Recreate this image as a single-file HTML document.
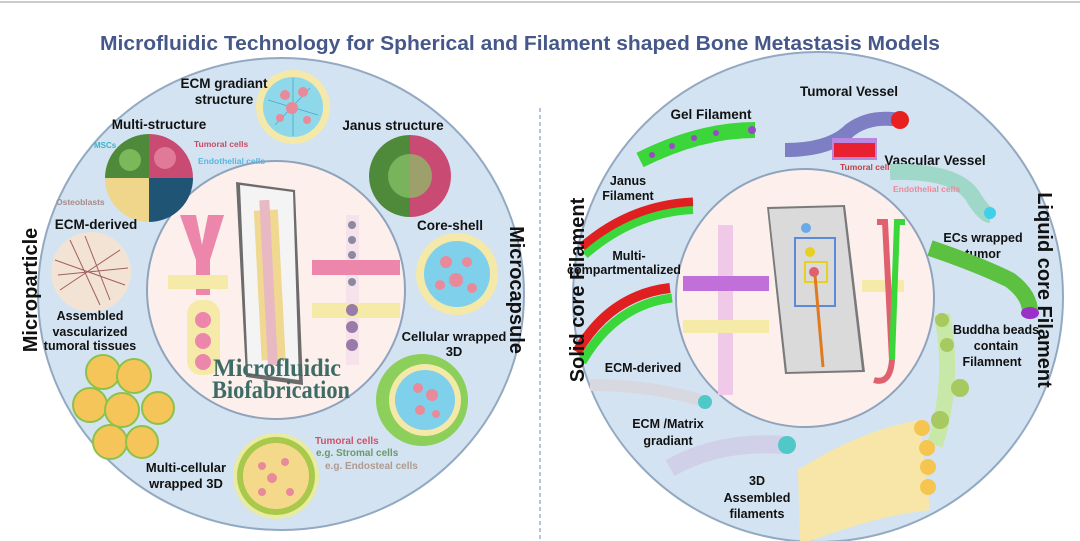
<!DOCTYPE html>
<html><head><meta charset="utf-8"><style>
html,body{margin:0;padding:0;background:#fff;}
svg{display:block;}
text{font-family:"Liberation Sans",sans-serif;font-weight:bold;}
</style></head><body>
<svg width="1080" height="541" viewBox="0 0 1080 541" xmlns="http://www.w3.org/2000/svg">
<rect width="1080" height="541" fill="#fff"/>
<line x1="0" y1="2" x2="1080" y2="2" stroke="#ccc" stroke-width="2"/>
<text x="520" y="50" text-anchor="middle" font-size="20" fill="#46588a" textLength="840" lengthAdjust="spacingAndGlyphs">Microfluidic Technology for Spherical and Filament shaped Bone Metastasis Models</text>
<line x1="540" y1="108" x2="540" y2="541" stroke="#9fb3c8" stroke-width="1.5" stroke-dasharray="4,3"/>

<!-- LEFT -->
<ellipse cx="281" cy="294" rx="243" ry="236" fill="#d3e3f1" stroke="#93a9c2" stroke-width="2"/>
<circle cx="276" cy="290" r="129" fill="#fdf0ec" stroke="#8fa3bd" stroke-width="2"/>

<circle cx="293" cy="107" r="37" fill="#f4e9a8"/>
<circle cx="293" cy="107" r="30" fill="#8fd8ea"/>
<g stroke="#4aa8c8" stroke-width="0.8" fill="none"><path d="M268 100 L318 115 M275 125 L310 88 M293 78 L293 136"/></g>
<g fill="#e98a9a"><circle cx="285" cy="95" r="5"/><circle cx="303" cy="92" r="5"/><circle cx="292" cy="108" r="6"/><circle cx="280" cy="118" r="4"/><circle cx="307" cy="120" r="4"/></g>
<text x="224" y="88" text-anchor="middle" font-size="13.5" fill="#111">ECM gradiant</text>
<text x="224" y="104" text-anchor="middle" font-size="13.5" fill="#111">structure</text>

<path d="M149 178 L149 134 A44 44 0 0 0 105 178Z" fill="#4f8a3a"/>
<path d="M149 178 L193 178 A44 44 0 0 0 149 134Z" fill="#c94a72"/>
<path d="M149 178 L105 178 A44 44 0 0 0 149 222Z" fill="#f0d68a"/>
<path d="M149 178 L149 222 A44 44 0 0 0 193 178Z" fill="#1f5474"/>
<circle cx="130" cy="160" r="11" fill="#7ab85a"/><circle cx="165" cy="158" r="11" fill="#e07a98"/>
<text x="159" y="129" text-anchor="middle" font-size="13.5" fill="#111">Multi-structure</text>
<text x="94" y="148" font-size="8" fill="#3bb3c8">MSCs</text>
<text x="194" y="147" font-size="8.5" fill="#c94a62">Tumoral cells</text>
<text x="198" y="164" font-size="8.5" fill="#5ab4dc">Endothelial cells</text>
<text x="56" y="205" font-size="8.5" fill="#a88a88">Osteoblasts</text>

<path d="M410 135 A41 41 0 0 0 410 217Z" fill="#4f8a3a"/>
<path d="M410 135 A41 41 0 0 1 410 217Z" fill="#c94a72"/>
<circle cx="410" cy="176" r="22" fill="#8cc46a" opacity="0.7"/>
<text x="393" y="130" text-anchor="middle" font-size="13.5" fill="#111">Janus structure</text>

<text x="96" y="229" text-anchor="middle" font-size="13.5" fill="#111">ECM-derived</text>
<circle cx="91" cy="272" r="40" fill="#f3e3d4"/>
<g stroke="#a06060" stroke-width="1" fill="none"><path d="M55 260 L125 285 M60 290 L120 250 M70 240 L100 305 M58 275 L128 268 M85 236 L110 300"/></g>
<text x="90" y="320" text-anchor="middle" font-size="12.5" fill="#111">Assembled</text>
<text x="90" y="336" text-anchor="middle" font-size="12.5" fill="#111">vascularized</text>
<text x="90" y="350" text-anchor="middle" font-size="12.5" fill="#111">tumoral tissues</text>
<g fill="#f5c55a" stroke="#8ac24a" stroke-width="2">
<circle cx="103" cy="372" r="17"/><circle cx="134" cy="376" r="17"/><circle cx="90" cy="405" r="17"/><circle cx="122" cy="410" r="17"/><circle cx="158" cy="408" r="16"/><circle cx="110" cy="442" r="17"/><circle cx="142" cy="442" r="16"/></g>

<text transform="translate(37,290) rotate(-90)" text-anchor="middle" font-size="20" fill="#111">Microparticle</text>
<text transform="translate(510,290) rotate(90)" text-anchor="middle" font-size="20" fill="#111">Microcapsule</text>

<text x="450" y="230" text-anchor="middle" font-size="13.5" fill="#111">Core-shell</text>
<circle cx="457" cy="274" r="41" fill="#f4e9a8"/>
<circle cx="457" cy="274" r="33" fill="#7fd0ea"/>
<g fill="#e98a9a"><circle cx="446" cy="262" r="6"/><circle cx="467" cy="262" r="5"/><circle cx="456" cy="280" r="7"/><circle cx="440" cy="285" r="5"/><circle cx="472" cy="288" r="5"/></g>
<text x="454" y="341" text-anchor="middle" font-size="13" fill="#111">Cellular wrapped</text>
<text x="454" y="356" text-anchor="middle" font-size="13" fill="#111">3D</text>
<circle cx="422" cy="400" r="46" fill="#8ccf5a"/>
<circle cx="425" cy="400" r="36" fill="#f4e9a8"/>
<circle cx="425" cy="400" r="30" fill="#7fd0ea"/>
<g fill="#e98a9a"><circle cx="418" cy="388" r="5"/><circle cx="432" cy="395" r="6"/><circle cx="420" cy="410" r="5"/><circle cx="436" cy="414" r="4"/></g>

<circle cx="276" cy="476" r="43" fill="#e9eba0"/>
<circle cx="276" cy="476" r="39" fill="#a8c94a"/>
<circle cx="276" cy="476" r="33" fill="#f5d98a"/>
<g fill="#e98a9a"><circle cx="262" cy="466" r="4"/><circle cx="285" cy="462" r="4"/><circle cx="272" cy="478" r="5"/><circle cx="262" cy="492" r="4"/><circle cx="290" cy="492" r="4"/></g>
<text x="186" y="472" text-anchor="middle" font-size="13" fill="#111">Multi-cellular</text>
<text x="186" y="488" text-anchor="middle" font-size="13" fill="#111">wrapped 3D</text>
<text x="315" y="444" font-size="10" fill="#d2506a">Tumoral cells</text>
<text x="316" y="456" font-size="10" fill="#6a9a6a">e.g. Stromal cells</text>
<text x="325" y="469" font-size="10" fill="#b09a90">e.g. Endosteal  cells</text>

<!-- inner left devices -->
<path d="M180 215 L196 215 L202 245 L208 215 L224 215 L210 260 L210 295 L196 295 L196 260Z" fill="#ec86ab"/>
<rect x="168" y="275" width="60" height="14" fill="#f5eaa8"/>
<rect x="187" y="300" width="33" height="75" rx="14" fill="#f5eaa8"/>
<circle cx="203" cy="320" r="8" fill="#ec86ab"/><circle cx="203" cy="341" r="8" fill="#ec86ab"/><circle cx="203" cy="362" r="8" fill="#ec86ab"/>
<polygon points="236,182 295,190 303,385 246,377" fill="#6c6c6c"/>
<polygon points="240,185 293,192 299,380 248,373" fill="#f4f4f4"/>
<rect x="258" y="210" width="24" height="150" fill="#f0d890" transform="rotate(-3 270 290)"/>
<rect x="264" y="200" width="10" height="165" fill="#e8b9c2" transform="rotate(-3 270 290)"/>
<rect x="346" y="215" width="13" height="150" fill="#f5e2ea"/>
<rect x="312" y="260" width="88" height="15" fill="#ec86ab"/>
<rect x="312" y="303" width="88" height="15" fill="#f5eaa8"/>
<g fill="#8a8aa0"><circle cx="352" cy="225" r="4"/><circle cx="352" cy="240" r="4"/><circle cx="352" cy="255" r="4"/><circle cx="352" cy="282" r="4"/></g>
<g fill="#9a7aa8"><circle cx="352" cy="310" r="6"/><circle cx="352" cy="327" r="6"/><circle cx="352" cy="345" r="6"/></g>
<text x="277" y="376" text-anchor="middle" font-size="25" fill="#3e6b66" textLength="128" lengthAdjust="spacingAndGlyphs" style="font-family:'Liberation Serif',serif;font-weight:bold">Microfluidic</text>
<text x="281" y="398" text-anchor="middle" font-size="25" fill="#3e6b66" textLength="138" lengthAdjust="spacingAndGlyphs" style="font-family:'Liberation Serif',serif;font-weight:bold">Biofabrication</text>

<!-- RIGHT -->
<circle cx="818" cy="297" r="245" fill="#d3e3f1" stroke="#93a9c2" stroke-width="2"/>
<circle cx="805" cy="298" r="129" fill="#fdf0ec" stroke="#8fa3bd" stroke-width="2"/>

<text x="849" y="96" text-anchor="middle" font-size="13.5" fill="#111">Tumoral Vessel</text>
<text x="711" y="119" text-anchor="middle" font-size="13.5" fill="#111">Gel Filament</text>
<path d="M640 160 Q700 130 755 130" stroke="#3ad63a" stroke-width="16" fill="none"/>
<g fill="#9a4ac8"><circle cx="652" cy="155" r="3"/><circle cx="672" cy="146" r="3"/><circle cx="694" cy="138" r="3"/><circle cx="716" cy="133" r="3"/><circle cx="752" cy="130" r="4"/></g>
<path d="M785 150 Q830 150 850 130 Q870 115 900 120" stroke="#7e7ec4" stroke-width="14" fill="none"/>
<circle cx="900" cy="120" r="9" fill="#e82020"/>
<rect x="832" y="138" width="45" height="22" fill="#b888e0"/>
<rect x="834" y="143" width="41" height="14" fill="#e82030"/>
<text x="840" y="170" font-size="8.5" fill="#c0404a">Tumoral cells</text>
<text x="935" y="165" text-anchor="middle" font-size="13.5" fill="#111">Vascular Vessel</text>
<path d="M890 172 Q960 170 975 200 Q985 215 990 215" stroke="#9fd8c8" stroke-width="16" fill="none"/>
<circle cx="990" cy="213" r="6" fill="#40d0e8"/>
<text x="893" y="192" font-size="8.5" fill="#e88a98" font-weight="normal">Endothelial  cells</text>
<text x="628" y="185" text-anchor="middle" font-size="12.5" fill="#111">Janus</text>
<text x="628" y="200" text-anchor="middle" font-size="12.5" fill="#111">Filament</text>
<path d="M582 247 Q630 205 693 202" stroke="#e02020" stroke-width="9" fill="none"/>
<path d="M585 255 Q633 213 693 210" stroke="#3ad63a" stroke-width="8" fill="none"/>
<text x="629" y="260" text-anchor="middle" font-size="12.5" fill="#111">Multi-</text>
<text x="624" y="274" text-anchor="middle" font-size="12.5" fill="#111">compartmentalized</text>
<path d="M577 352 Q610 295 670 288" stroke="#e02020" stroke-width="10" fill="none"/>
<path d="M582 362 Q615 305 672 298" stroke="#3ad63a" stroke-width="9" fill="none"/>
<text transform="translate(584,290) rotate(-90)" text-anchor="middle" font-size="20" fill="#111">Solid core Filament</text>
<text transform="translate(1038,290) rotate(90)" text-anchor="middle" font-size="20" fill="#111">Liquid core Filament</text>
<text x="983" y="242" text-anchor="middle" font-size="12.5" fill="#111">ECs wrapped</text>
<text x="983" y="258" text-anchor="middle" font-size="12.5" fill="#111">tumor</text>
<path d="M930 248 Q980 265 1010 280 Q1030 295 1030 312" stroke="#5cc040" stroke-width="16" fill="none"/>
<ellipse cx="1030" cy="313" rx="9" ry="6" fill="#9a30c8"/>
<text x="996" y="334" text-anchor="middle" font-size="12.5" fill="#111">Buddha beads</text>
<text x="996" y="350" text-anchor="middle" font-size="12.5" fill="#111">contain</text>
<text x="992" y="366" text-anchor="middle" font-size="12.5" fill="#111">Filamnent</text>
<path d="M942 315 Q955 380 935 445" stroke="#c8e8a8" stroke-width="16" fill="none"/>
<g fill="#a8c860"><circle cx="942" cy="320" r="7"/><circle cx="947" cy="345" r="7"/><circle cx="960" cy="388" r="9"/><circle cx="940" cy="420" r="9"/></g>
<text x="643" y="372" text-anchor="middle" font-size="12.5" fill="#111">ECM-derived</text>
<path d="M590 385 Q650 385 700 400" stroke="#d8d8e0" stroke-width="12" fill="none"/>
<circle cx="705" cy="402" r="7" fill="#50c8c8"/>
<text x="668" y="428" text-anchor="middle" font-size="12.5" fill="#111">ECM /Matrix</text>
<text x="668" y="445" text-anchor="middle" font-size="12.5" fill="#111">gradiant</text>
<path d="M670 468 Q720 440 785 445" stroke="#d0d0e8" stroke-width="18" fill="none"/>
<circle cx="787" cy="445" r="9" fill="#50c8c8"/>
<text x="757" y="485" text-anchor="middle" font-size="12.5" fill="#111">3D</text>
<text x="757" y="502" text-anchor="middle" font-size="12.5" fill="#111">Assembled</text>
<text x="757" y="518" text-anchor="middle" font-size="12.5" fill="#111">filaments</text>
<path d="M798 470 Q860 430 920 420 L930 510 Q880 515 810 541 L800 541Z" fill="#f8e6a8"/>
<g fill="#f5c550"><circle cx="922" cy="428" r="8"/><circle cx="927" cy="448" r="8"/><circle cx="928" cy="467" r="8"/><circle cx="928" cy="487" r="8"/></g>

<rect x="718" y="225" width="15" height="170" fill="#f0c8e8"/>
<rect x="683" y="276" width="86" height="15" fill="#c070d8"/>
<rect x="683" y="320" width="86" height="13" fill="#f5eaa8"/>
<polygon points="767,207 845,205 865,372 785,374" fill="#7a7a7a"/>
<polygon points="769,209 843,207 862,370 787,372" fill="#dadada"/>
<rect x="795" y="238" width="40" height="68" fill="none" stroke="#5a8ad8" stroke-width="2"/>
<rect x="805" y="262" width="22" height="20" fill="none" stroke="#e8d020" stroke-width="2"/>
<circle cx="806" cy="228" r="5" fill="#6aa8e8"/><circle cx="810" cy="252" r="5" fill="#e8d020"/><circle cx="814" cy="272" r="5" fill="#e06070"/>
<line x1="815" y1="275" x2="823" y2="367" stroke="#e07a20" stroke-width="3"/>
<rect x="862" y="280" width="42" height="12" fill="#f5eaa8"/>
<path d="M877 222 L885 222 L892 360 Q890 385 874 380" stroke="#e06070" stroke-width="6" fill="none"/>
<path d="M905 222 L897 222 L892 360" stroke="#3ad63a" stroke-width="6" fill="none"/>
</svg>
</body></html>
